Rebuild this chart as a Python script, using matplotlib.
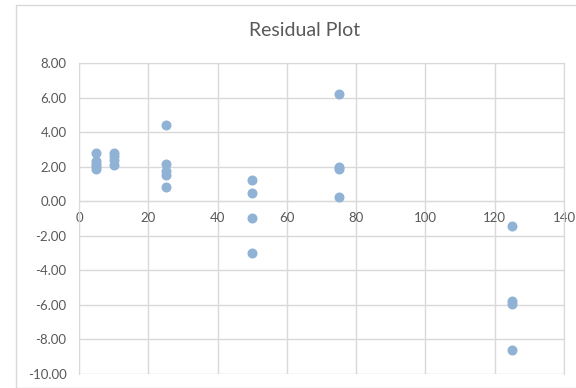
import matplotlib
matplotlib.use("Agg")
import matplotlib.pyplot as plt
from matplotlib.patches import Rectangle

x_vals = [5, 5, 5, 5, 5,
          10, 10, 10, 10,
          25, 25, 25, 25, 25,
          50, 50, 50, 50,
          75, 75, 75, 75,
          125, 125, 125, 125]
residuals = [2.78, 2.30, 2.15, 2.05, 1.85,
             2.80, 2.60, 2.40, 2.10,
             4.42, 2.18, 1.76, 1.52, 0.84,
             1.22, 0.47, -0.95, -3.00,
             6.19, 1.97, 1.85, 0.25,
             -1.45, -5.78, -5.95, -8.62]
x_ticks = [0, 20, 40, 60, 80, 100, 120, 140]
y_ticks = [-10, -8, -6, -4, -2, 0, 2, 4, 6, 8]
title = "Residual Plot"

plt.rcParams['font.family'] = ['Lato', 'DejaVu Sans']
W, H = 576, 388
fig = plt.figure(figsize=(W/100, H/100), dpi=100)
fig.patches.append(Rectangle((16/W, 0), 1.2, (H-5)/H, transform=fig.transFigure,
                             fill=False, edgecolor='#D9D9D9', lw=1))
ax = fig.add_axes([79/W, 1-374/H, (564-79)/W, (374-63)/H])
grid_c = '#D9D9D9'
text_c = '#595959'
ax.scatter(x_vals, residuals, s=52, color='#8FB2D5', zorder=3, linewidths=0)
ax.set_xlim(0, 140)
ax.set_ylim(-10, 8)
ax.set_xticks(x_ticks)
ax.set_yticks(y_ticks)
ax.set_yticklabels([f"{v:.2f}" for v in y_ticks])
ax.grid(True, color=grid_c, lw=1, zorder=0)
ax.set_axisbelow(True)
for s in ax.spines.values():
    s.set_color(grid_c)
ax.spines['bottom'].set_position(('data', 0))
ax.tick_params(axis='both', length=0, colors=text_c, labelsize=9.5)
ax.tick_params(axis='x', pad=8)
ax.tick_params(axis='y', pad=9)
fig.text(305/W, 1-31/H, title, ha='center', va='center', fontsize=14, color=text_c)
fig.savefig("out.png", dpi=100)
